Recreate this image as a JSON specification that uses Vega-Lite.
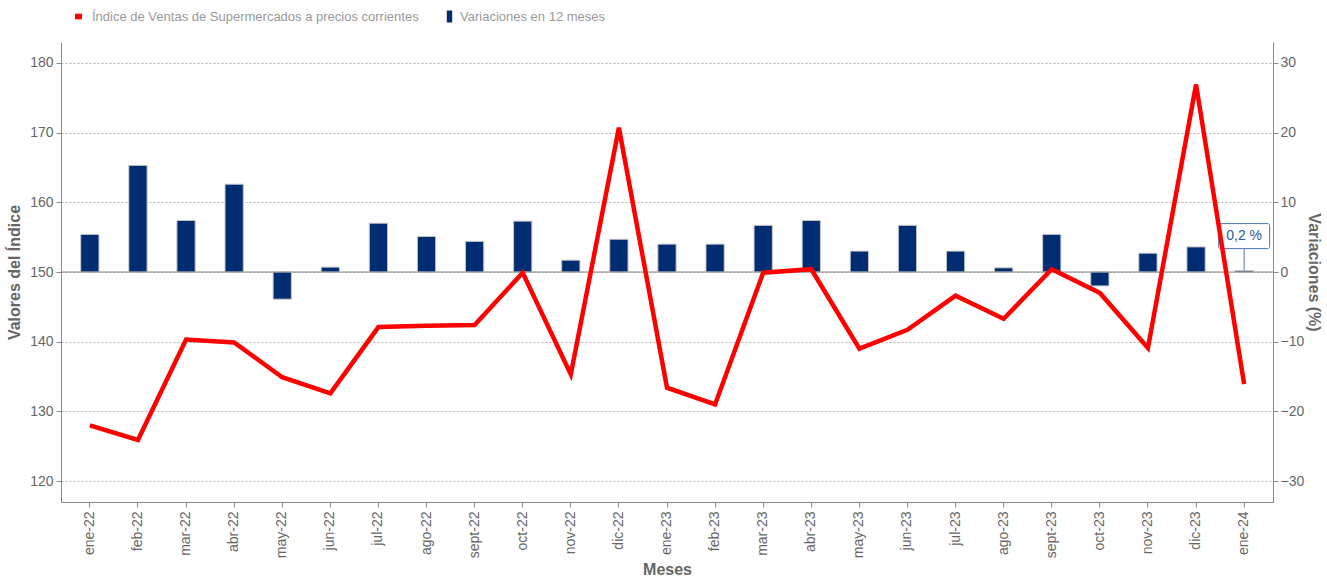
{
  "$schema": "https://vega.github.io/schema/vega-lite/v6.json",
  "autosize": "none",
  "width": 1212,
  "height": 460,
  "padding": {"left": 61, "top": 42, "right": 54, "bottom": 76},
  "background": "white",
  "config": {
    "view": {"stroke": null},
    "font": "Liberation Sans, Arial, Helvetica, sans-serif",
    "axis": {
      "domainColor": "#888888",
      "tickColor": "#888888",
      "labelColor": "#666666",
      "labelFontSize": 14,
      "labelFont": "Liberation Sans, Arial, Helvetica, sans-serif",
      "titleColor": "#666666",
      "titleFontSize": 16,
      "titleFontWeight": "bold",
      "titleFont": "Liberation Sans, Arial, Helvetica, sans-serif",
      "gridColor": "#b0b0b0",
      "gridDash": [2, 2]
    },
    "legend": {
      "labelFont": "Liberation Sans, Arial, Helvetica, sans-serif",
      "labelFontSize": 13,
      "labelColor": "#999999",
      "labelLimit": 600,
      "padding": 0,
      "title": null
    }
  },
  "datasets": {
    "datos": [
      {"mes": "ene-22", "indice": 128.0, "variacion": 5.4},
      {"mes": "feb-22", "indice": 125.9, "variacion": 15.3},
      {"mes": "mar-22", "indice": 140.3, "variacion": 7.4},
      {"mes": "abr-22", "indice": 139.9, "variacion": 12.6},
      {"mes": "may-22", "indice": 134.9, "variacion": -3.9},
      {"mes": "jun-22", "indice": 132.6, "variacion": 0.7},
      {"mes": "jul-22", "indice": 142.1, "variacion": 7.0},
      {"mes": "ago-22", "indice": 142.3, "variacion": 5.1},
      {"mes": "sept-22", "indice": 142.4, "variacion": 4.4},
      {"mes": "oct-22", "indice": 149.9, "variacion": 7.3},
      {"mes": "nov-22", "indice": 135.3, "variacion": 1.7},
      {"mes": "dic-22", "indice": 170.7, "variacion": 4.7},
      {"mes": "ene-23", "indice": 133.4, "variacion": 4.0},
      {"mes": "feb-23", "indice": 131.0, "variacion": 4.0},
      {"mes": "mar-23", "indice": 149.9, "variacion": 6.7},
      {"mes": "abr-23", "indice": 150.4, "variacion": 7.4},
      {"mes": "may-23", "indice": 139.0, "variacion": 3.0},
      {"mes": "jun-23", "indice": 141.7, "variacion": 6.7},
      {"mes": "jul-23", "indice": 146.6, "variacion": 3.0},
      {"mes": "ago-23", "indice": 143.3, "variacion": 0.6},
      {"mes": "sept-23", "indice": 150.4, "variacion": 5.4},
      {"mes": "oct-23", "indice": 147.0, "variacion": -2.0},
      {"mes": "nov-23", "indice": 139.1, "variacion": 2.7},
      {"mes": "dic-23", "indice": 176.9, "variacion": 3.6},
      {"mes": "ene-24", "indice": 133.9, "variacion": 0.2}
    ],
    "nota": [
      {"mes": "ene-24", "variacion": 0.2, "etiqueta": "0,2 %"}
    ]
  },
  "encoding": {
    "x": {
      "field": "mes",
      "type": "ordinal",
      "sort": null,
      "scale": {"paddingInner": 0.62, "paddingOuter": 0.41},
      "axis": {
        "title": "Meses",
        "labelAngle": -90,
        "labelPadding": 4,
        "tickSize": 5,
        "titlePadding": 4
      }
    }
  },
  "layer": [
    {
      "layer": [
        {
          "data": {"name": "datos"},
          "mark": {"type": "bar", "stroke": "#c8c8c8", "strokeWidth": 1},
          "encoding": {
            "y": {
              "field": "variacion",
              "type": "quantitative",
              "scale": {"domain": [-33, 33], "nice": false, "zero": false},
              "axis": {
                "orient": "right",
                "title": "Variaciones (%)",
                "values": [-30, -20, -10, 0, 10, 20, 30],
                "grid": false,
                "tickSize": 5,
                "labelPadding": 2,
                "titlePadding": 2
              }
            },
            "fill": {
              "datum": "Variaciones en 12 meses",
              "scale": {"range": ["#002d72"]},
              "legend": {
                "orient": "none",
                "legendX": 382,
                "legendY": -32,
                "symbolType": "M-0.45,-1H0.45V1H-0.45Z",
                "symbolSize": 144,
                "symbolStrokeWidth": 0,
                "symbolOffset": 0,
                "labelOffset": 4
              }
            }
          }
        },
        {
          "data": {"values": [{"cero": 0}]},
          "mark": {"type": "rule", "color": "#888888", "strokeWidth": 1.2},
          "encoding": {"y": {"field": "cero", "type": "quantitative"}, "x": null}
        },
        {
          "data": {"name": "nota"},
          "mark": {"type": "rule", "color": "#4a78ad", "strokeWidth": 1, "y2Offset": -22},
          "encoding": {
            "y": {"field": "variacion", "type": "quantitative"},
            "y2": {"field": "variacion"}
          }
        },
        {
          "data": {"name": "nota"},
          "mark": {"type": "bar", "width": 51, "fill": "white", "stroke": "#4a78ad", "strokeWidth": 1, "cornerRadius": 2, "yOffset": -22, "y2Offset": -47},
          "encoding": {
            "y": {"field": "variacion", "type": "quantitative"},
            "y2": {"field": "variacion"}
          }
        },
        {
          "data": {"name": "nota"},
          "mark": {"type": "text", "color": "#2a5b9b", "fontSize": 14, "dy": -35, "align": "center", "baseline": "middle"},
          "encoding": {
            "y": {"field": "variacion", "type": "quantitative"},
            "text": {"field": "etiqueta"}
          }
        }
      ]
    },
    {
      "data": {"name": "datos"},
      "mark": {"type": "line", "strokeWidth": 4.5, "strokeJoin": "miter"},
      "encoding": {
        "y": {
          "field": "indice",
          "type": "quantitative",
          "scale": {"domain": [117, 183], "nice": false, "zero": false},
          "axis": {
            "orient": "left",
            "title": "Valores del Índice",
            "values": [120, 130, 140, 150, 160, 170, 180],
            "grid": true,
            "tickSize": 5,
            "labelPadding": 3,
            "titlePadding": 7
          }
        },
        "stroke": {
          "datum": "Índice de Ventas de Supermercados a precios corrientes",
          "scale": {"range": ["#ff0000"]},
          "legend": {
            "orient": "none",
            "legendX": 11,
            "legendY": -32,
            "symbolType": "M-1,-0.8H1V0.8H-1Z",
            "symbolSize": 36,
            "symbolFillColor": "#ff0000",
            "symbolStrokeColor": "#ff0000",
            "symbolStrokeWidth": 1,
            "symbolOffset": 0,
            "labelOffset": 7
          }
        }
      }
    }
  ],
  "resolve": {"scale": {"y": "independent"}}
}
